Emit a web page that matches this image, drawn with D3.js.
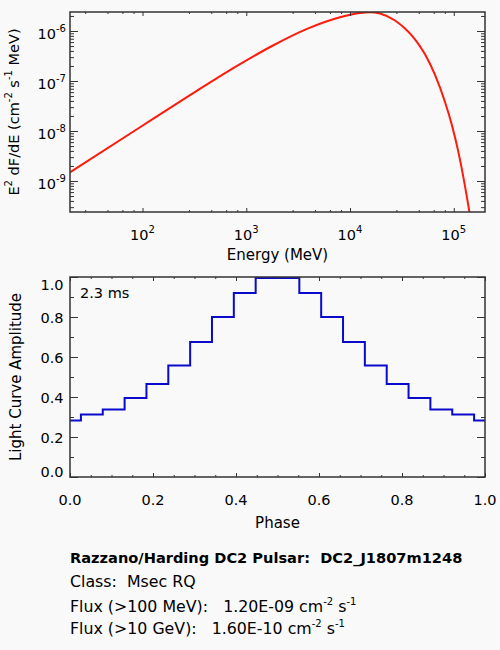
<!DOCTYPE html>
<html>
<head>
<meta charset="utf-8">
<script src="https://cdn.jsdelivr.net/npm/d3@7"></script>
<style>
body { margin: 0; background: #f9f9f9; }
svg { font-family: "DejaVu Sans", "Liberation Sans", Arial, sans-serif; }
.frame { fill: none; stroke: #333; stroke-width: 1.5px; }
.tick line { stroke: #333; stroke-width: 1px; }
.domain { display: none; }
text { fill: #000; }
</style>
</head>
<body>
<svg width="500" height="650"></svg>
<script>

// spectrum (MeV, cm^-2 s^-1 MeV)
var energy = [20, 94.6, 287, 870, 1810, 3850, 8000, 12480, 15580, 19450, 27140,
              33880, 42300, 52820, 65950, 82340, 96160, 109900, 122800, 140300, 156700];
var e2dfde = [1.49e-9, 1.19e-8, 5.23e-8, 2.18e-7, 5.13e-7, 1.10e-6, 1.88e-6, 2.30e-6, 2.38e-6, 2.24e-6, 1.62e-6,
              1.12e-6, 6.83e-7, 3.42e-7, 1.32e-7, 3.80e-8, 1.29e-8, 4.10e-9, 1.30e-9, 2.68e-10, 6.5e-11];

// light curve
var phase = [0, 0.0526, 0.1053, 0.1579, 0.2105, 0.2632, 0.3158, 0.3684, 0.4211, 0.4737,
             0.5263, 0.5789, 0.6316, 0.6842, 0.7368, 0.7895, 0.8421, 0.8947, 0.9474, 1];
var amplitude = [0.282, 0.313, 0.338, 0.395, 0.465, 0.558, 0.675, 0.800, 0.920, 0.995,
                 0.995, 0.920, 0.800, 0.675, 0.558, 0.465, 0.395, 0.338, 0.313, 0.282];

var energyRange = [20, 2e5],
    fluxRange = [2.4e-10, 2.4e-6];
var energyTicks = [1e2, 1e3, 1e4, 1e5],
    energyMinor = [28, 46, 64, 82, 280, 460, 640, 820, 2800, 4600, 6400, 8200,
                   28000, 46000, 64000, 82000],
    fluxTicks = [1e-9, 1e-8, 1e-7, 1e-6];
var phaseTicks = [0, 0.2, 0.4, 0.6, 0.8, 1.0],
    ampTicks = [0, 0.2, 0.4, 0.6, 0.8, 1.0];

var period = "2.3 ms";
var infoTitle = "Razzano/Harding DC2 Pulsar:  DC2_J1807m1248",
    infoClass = "Class:  Msec RQ",
    infoFlux = [["Flux (>100 MeV):   1.20E-09 cm", " s"],
                ["Flux (>10 GeV):   1.60E-10 cm", " s"]];

var svg = d3.select("svg"),
    left = 70, right = 485;

// keep repeated blanks
function nb(s) { return s.replace(/ /g, "\u00a0"); }

function sup(t, base, s) {
  t.append("tspan").text(base);
  t.append("tspan").attr("dy", -7).style("font-size", "10px").text(s);
}

// ticks pointing inward on all four sides
function frameTicks(g, x, y, xMaj, xMin, yMaj, yMin, top, bot) {
  var xl = 4, yl = 8;
  function add(axis, vals, len, tr) {
    g.append("g").attr("transform", tr)
      .call(axis.tickValues(vals).tickSize(-len).tickSizeOuter(0).tickFormat(""));
  }
  add(d3.axisBottom(x), xMaj, xl, "translate(0," + bot + ")");
  add(d3.axisBottom(x), xMin, xl / 2, "translate(0," + bot + ")");
  add(d3.axisTop(x), xMaj, xl, "translate(0," + top + ")");
  add(d3.axisTop(x), xMin, xl / 2, "translate(0," + top + ")");
  add(d3.axisLeft(y), yMaj, yl, "translate(" + left + ",0)");
  add(d3.axisLeft(y), yMin, yl / 2, "translate(" + left + ",0)");
  add(d3.axisRight(y), yMaj, yl, "translate(" + right + ",0)");
  add(d3.axisRight(y), yMin, yl / 2, "translate(" + right + ",0)");
  g.selectAll(".tick text").remove();
  g.append("rect").attr("class", "frame")
    .attr("x", left).attr("y", top).attr("width", right - left).attr("height", bot - top);
}

// ---- spectrum panel
var sTop = 12, sBot = 212;
var x1 = d3.scaleLog().domain(energyRange).range([left, right]),
    y1 = d3.scaleLog().domain(fluxRange).range([sBot, sTop]);
var g1 = svg.append("g");

svg.append("clipPath").attr("id", "clip1").append("rect")
  .attr("x", left).attr("y", sTop).attr("width", right - left).attr("height", sBot - sTop);

var fluxMinor = y1.ticks().filter(function(v) { return fluxTicks.indexOf(v) < 0; });

g1.append("path")
  .datum(d3.zip(energy, e2dfde))
  .attr("clip-path", "url(#clip1)")
  .attr("fill", "none").attr("stroke", "#ff1a0a").attr("stroke-width", 2)
  .attr("d", d3.line().x(function(d) { return x1(d[0]); })
                      .y(function(d) { return y1(d[1]); })
                      .curve(d3.curveMonotoneX));

frameTicks(g1, x1, y1, energyTicks, energyMinor, fluxTicks, fluxMinor, sTop, sBot);

energyTicks.forEach(function(v) {
  var t = g1.append("text").attr("x", x1(v)).attr("y", sBot + 28)
    .attr("text-anchor", "middle").style("font-size", "14.5px");
  sup(t, "10", Math.round(Math.log10(v)));
});
fluxTicks.forEach(function(v) {
  var t = g1.append("text").attr("x", left - 4).attr("y", y1(v) + 8)
    .attr("text-anchor", "end").style("font-size", "14.5px");
  sup(t, "10", Math.round(Math.log10(v)));
});

g1.append("text").attr("x", (left + right) / 2).attr("y", 259.5)
  .attr("text-anchor", "middle").style("font-size", "15px").text("Energy (MeV)");

var yt = g1.append("text")
  .attr("transform", "translate(18.5," + (sTop + sBot) / 2 + ") rotate(-90)")
  .attr("text-anchor", "middle").style("font-size", "14.5px");
yt.append("tspan").text("E");
yt.append("tspan").attr("dy", -7).style("font-size", "10px").text("2");
yt.append("tspan").attr("dy", 7).text(nb(" dF/dE (cm"));
yt.append("tspan").attr("dy", -7).style("font-size", "10px").text("-2");
yt.append("tspan").attr("dy", 7).text(nb(" s"));
yt.append("tspan").attr("dy", -7).style("font-size", "10px").text("-1");
yt.append("tspan").attr("dy", 7).text(nb(" MeV)"));

// ---- light curve panel
var lTop = 277, lBot = 477;
var x2 = d3.scaleLinear().domain([0, 1]).range([left, right]),
    y2 = d3.scaleLinear().domain([0, 1]).range([lBot, lTop]);
var g2 = svg.append("g");

var phaseMinor = x2.ticks(20).filter(function(v) { return phaseTicks.indexOf(v) < 0; }),
    ampMinor = y2.ticks(10).filter(function(v) { return Math.round(v * 10) % 2; });

g2.append("path")
  .datum(d3.zip(phase, amplitude))
  .attr("fill", "none").attr("stroke", "#0a0acc").attr("stroke-width", 2)
  .attr("d", d3.line().x(function(d) { return x2(d[0]); })
                      .y(function(d) { return y2(d[1]); })
                      .curve(d3.curveStep));

frameTicks(g2, x2, y2, phaseTicks, phaseMinor, ampTicks, ampMinor, lTop, lBot);

phaseTicks.forEach(function(v) {
  g2.append("text").attr("x", x2(v)).attr("y", lBot + 28)
    .attr("text-anchor", "middle").style("font-size", "14.5px").text(d3.format(".1f")(v));
});
ampTicks.forEach(function(v, i) {
  var dy = i === 0 ? 0 : (i === ampTicks.length - 1 ? 13 : 5.5);
  g2.append("text").attr("x", left - 6.5).attr("y", y2(v) + dy)
    .attr("text-anchor", "end").style("font-size", "14.5px").text(d3.format(".1f")(v));
});

g2.append("text").attr("x", (left + right) / 2).attr("y", 528)
  .attr("text-anchor", "middle").style("font-size", "15px").text("Phase");
g2.append("text")
  .attr("transform", "translate(20.5," + (lTop + lBot) / 2 + ") rotate(-90)")
  .attr("text-anchor", "middle").style("font-size", "15px").text("Light Curve Amplitude");
g2.append("text").attr("x", 80).attr("y", 298)
  .style("font-size", "14.5px").text(period);

// ---- info text
var info = svg.append("g").style("font-size", "15.8px");
info.append("text").attr("x", 70).attr("y", 562.5).style("font-weight", "bold")
  .style("font-size", "14.6px").text(nb(infoTitle));
info.append("text").attr("x", 70).attr("y", 587).text(nb(infoClass));
infoFlux.forEach(function(f, i) {
  var t = info.append("text").attr("x", 70).attr("y", 612 + i * 22);
  t.append("tspan").text(nb(f[0]));
  t.append("tspan").attr("dy", -7).style("font-size", "10px").text("-2");
  t.append("tspan").attr("dy", 7).text(nb(f[1]));
  t.append("tspan").attr("dy", -7).style("font-size", "10px").text("-1");
});

</script>
</body>
</html>
